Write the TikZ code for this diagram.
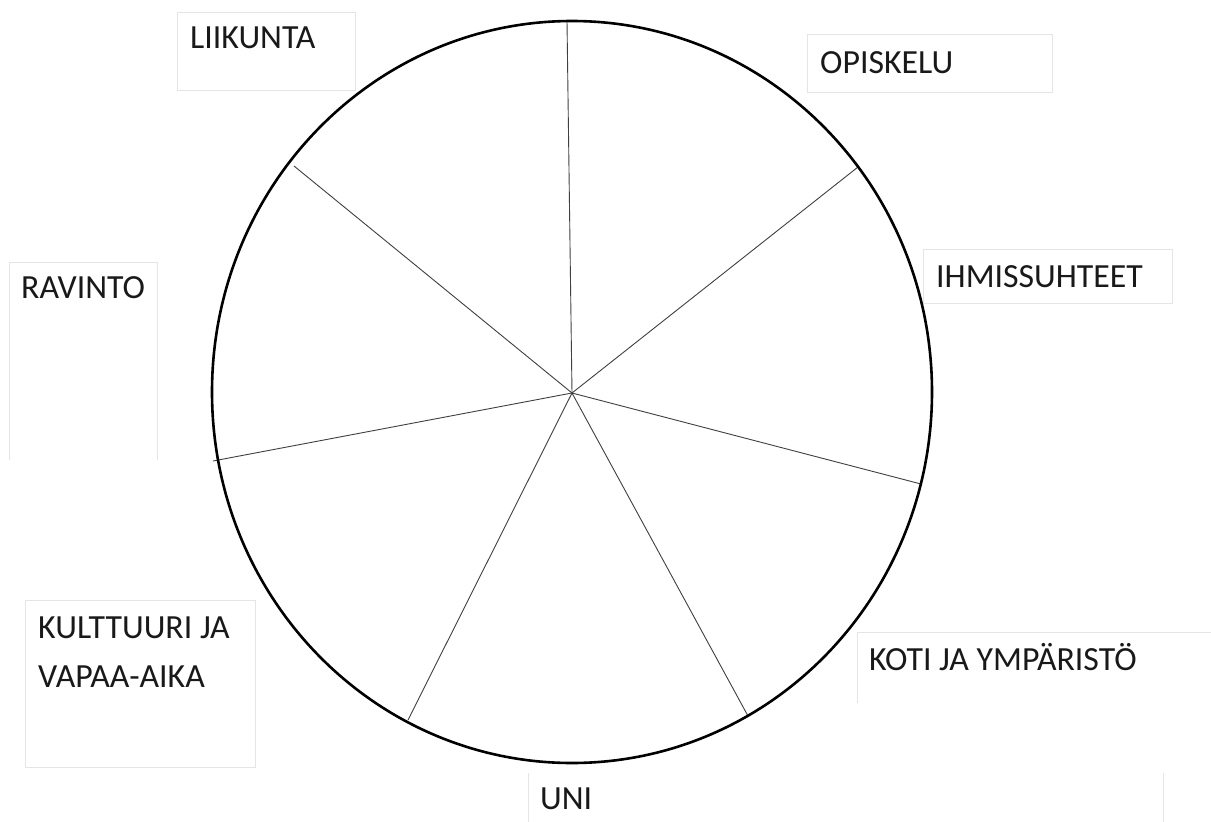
\documentclass[tikz,border=0pt]{standalone}
\usepackage{fontspec}
\setmainfont{Carlito}
\begin{document}
\begin{tikzpicture}[x=1pt,y=-1pt,
  lbl/.style={anchor=base west,inner sep=0pt,font=\fontsize{33.8}{49}\selectfont,text=black!90},
  lblbox/.style={draw=black!10,line width=1pt},
  spoke/.style={draw=black!75,line width=0.9pt},
  rim/.style={draw=black,line width=2.6pt}]
\useasboundingbox[fill=white] (0,0) rectangle (1211,822);
% label boxes
\draw[lblbox] (177,12) rectangle (355,90);
\draw[lblbox] (807,34) rectangle (1052,92);
\draw[lblbox] (923,249) rectangle (1172,303);
\draw[lblbox] (9,460) -- (9,262) -- (157,262) -- (157,460);
\draw[lblbox] (25,600) rectangle (255,767);
\draw[lblbox] (857,703) -- (857,632) -- (1211,632);
\draw[lblbox] (528,773) -- (528,822);
\draw[lblbox] (1163,773) -- (1163,822);
% wheel
\coordinate (c) at (572,393);
\coordinate (e1) at (567,21);
\coordinate (e2) at (858,167);
\coordinate (e3) at (921,484);
\coordinate (e4) at (748,716);
\coordinate (e5) at (408,720);
\coordinate (e6) at (213,461);
\coordinate (e7) at (294,166);
\foreach \e in {e1,e2,e3,e4,e5,e6,e7} \draw[spoke] (c) -- (\e);
\draw[rim] (572,392) ellipse [x radius=360, y radius=371];
% labels
\node[lbl] (liikunta) at (190,48) {LIIKUNTA};
\node[lbl] (opiskelu) at (820,73) {OPISKELU};
\node[lbl] (ihmis) at (936,287) {IHMISSUHTEET};
\node[lbl] (ravinto) at (21,298) {RAVINTO};
\node[lbl] (kult1) at (38,638) {KULTTUURI JA};
\node[lbl] (kult2) at (38,687) {VAPAA-AIKA};
\node[lbl] (koti) at (869,670) {KOTI JA YMPÄRISTÖ};
\node[lbl] (uni) at (540,809) {UNI};
\end{tikzpicture}
\end{document}
